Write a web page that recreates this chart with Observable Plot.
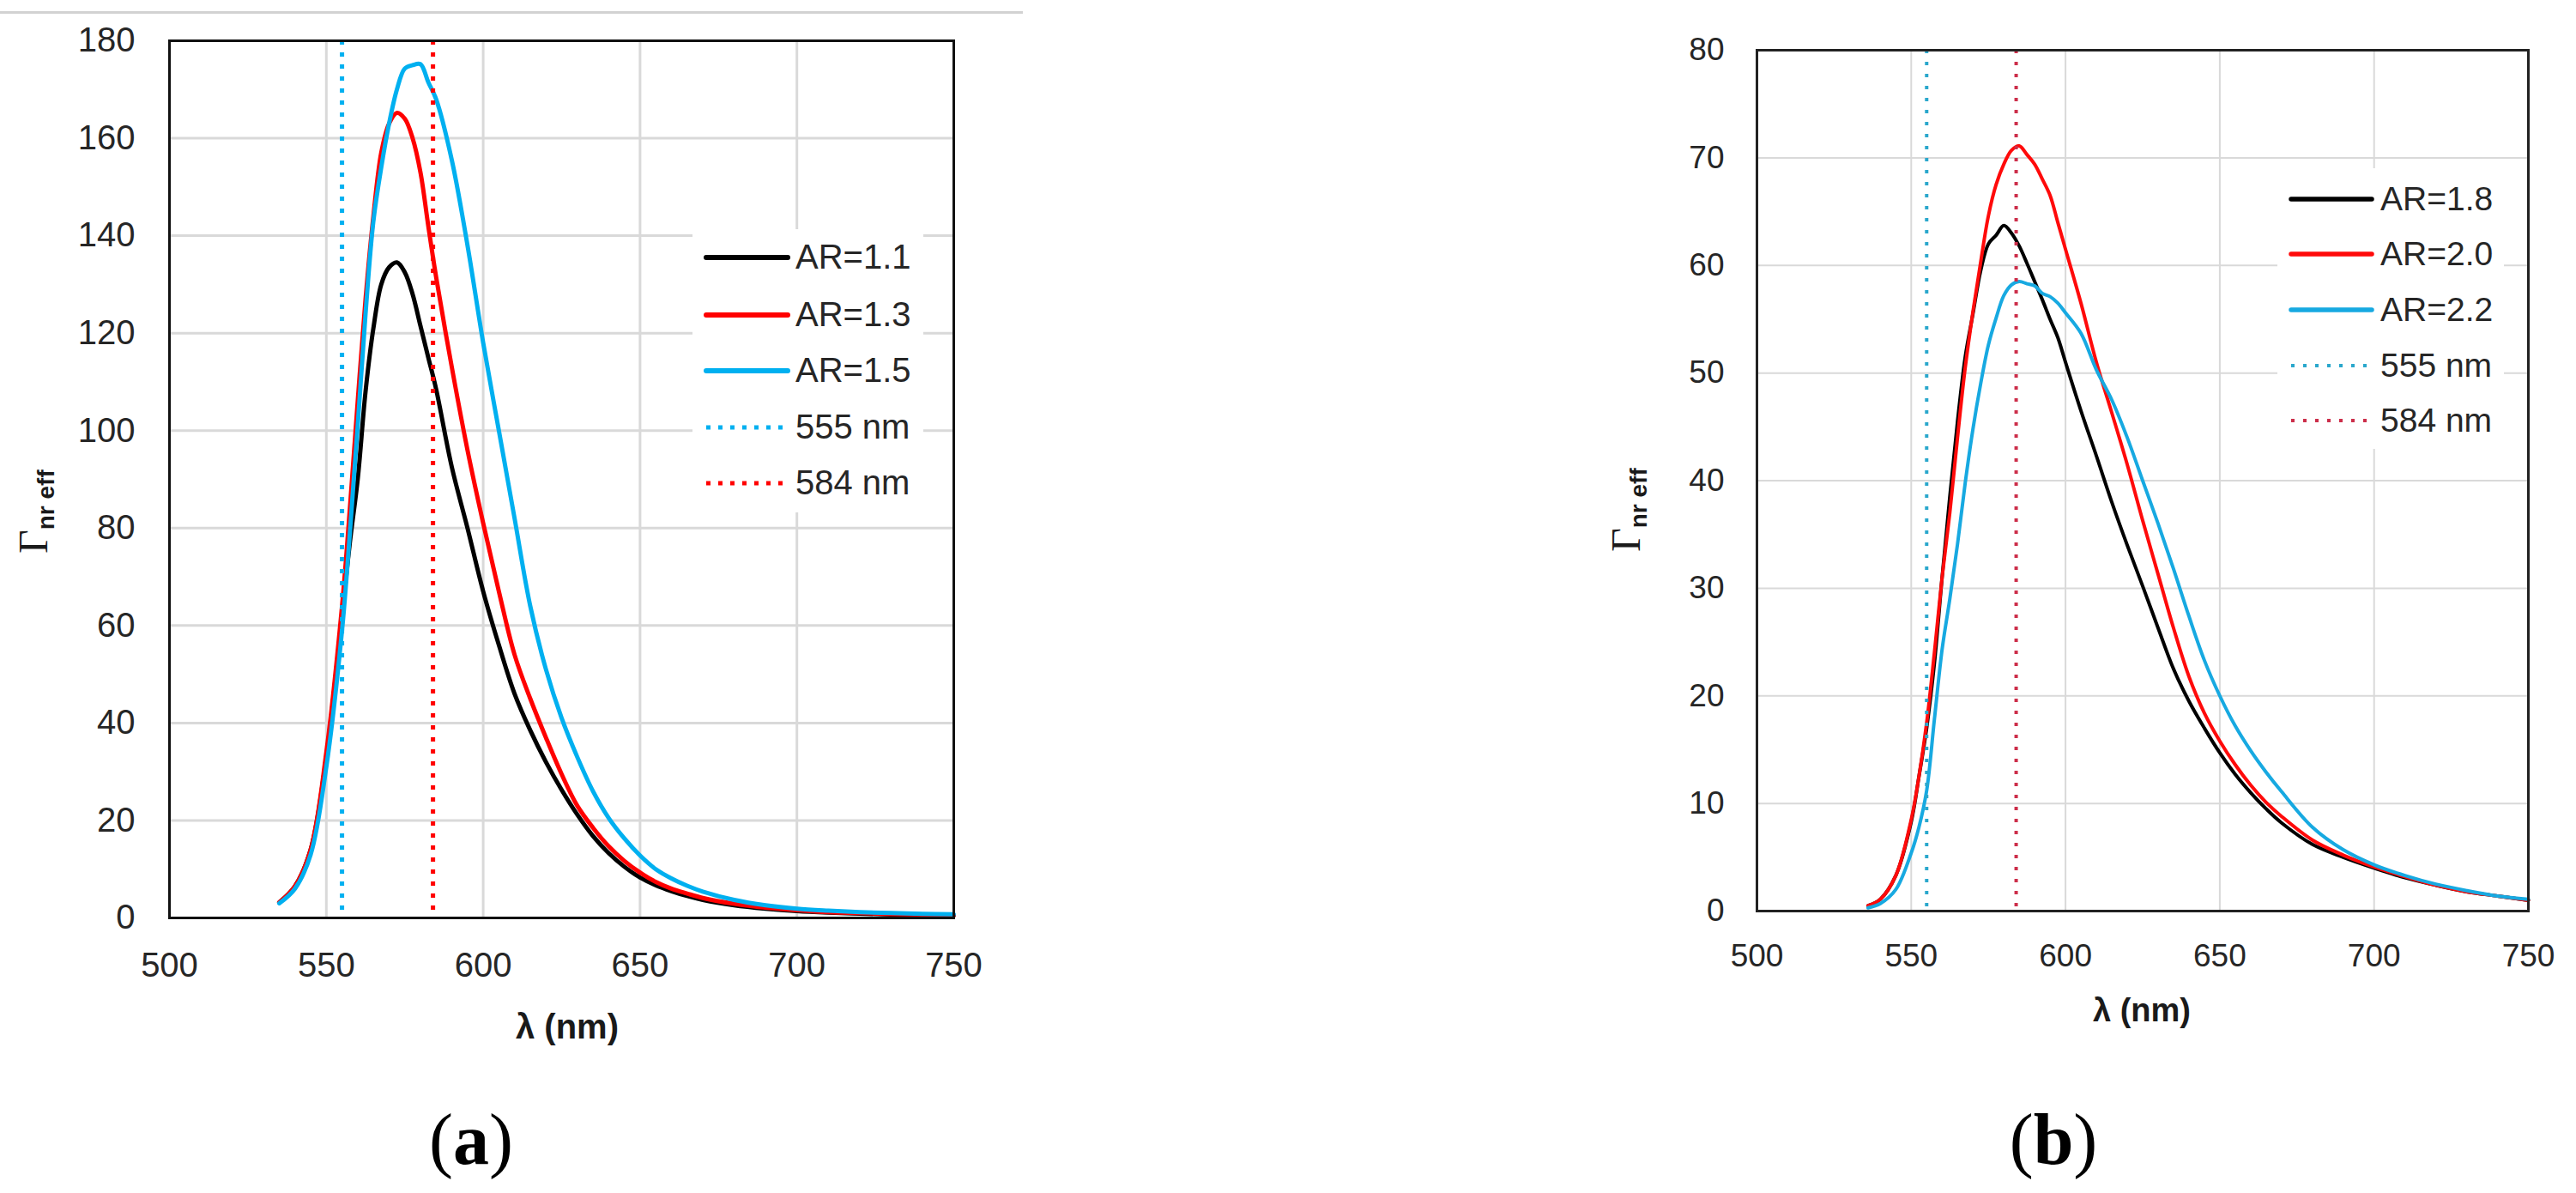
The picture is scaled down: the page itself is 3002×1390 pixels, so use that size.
<!DOCTYPE html>
<html>
<head>
<meta charset="utf-8">
<script src="https://cdn.jsdelivr.net/npm/d3@7"></script>
<script src="https://cdn.jsdelivr.net/npm/@observablehq/plot@0.6"></script>
<style>
  html, body { margin: 0; padding: 0; background: #fff; }
  #root { position: relative; width: 3002px; height: 1390px; overflow: hidden; background: #fff; }
</style>
</head>
<body>
<div id="root"></div>
<script>
// ---------------- DATA ----------------
const xTicks = [500, 550, 600, 650, 700, 750];
const yTicksA = [0, 20, 40, 60, 80, 100, 120, 140, 160, 180];
const yTicksB = [0, 10, 20, 30, 40, 50, 60, 70, 80];
const markerWavelengths = [555, 584];

// Panel (a)
const aWl = [535,540,545,550,555,557.5,560,562.5,565,567.5,570,572.5,575,577.5,580,582.5,585,590,595,600,605,610,615,620,625,630,635,640,645,650,655,660,665,670,680,690,700,710,720,730,740,750];
const aAR11 = [3.2,6.5,14,33,62,77,90,108,121,130,133.5,134.5,132.5,128,121.5,115,108.5,92.5,80,67,56,46,38.5,32,26.3,21.2,16.8,13.3,10.5,8.3,6.7,5.5,4.5,3.7,2.6,1.9,1.4,1.1,0.9,0.7,0.6,0.5];
const aAR13 = [3.2,6.5,14,34,64,84,106,127,144,157,163,165.2,164,160,153,142,131.5,113,96,81,67,54,45,37,29.5,23,18.5,14.7,11.7,9.3,7.4,6.0,5.0,4.1,2.9,2.1,1.6,1.2,1.0,0.8,0.7,0.6];
const aAR15 = [3.0,6.0,13,31,59,79,101,124,143,154,163,170,174.3,175,175.2,171.5,168,155.5,138,118,100,82,64,51,41,33,26,20.5,16.3,12.8,10,8.1,6.6,5.4,3.7,2.6,1.9,1.5,1.2,1.0,0.85,0.75];
const aLegend = ["AR=1.1", "AR=1.3", "AR=1.5", "555 nm", "584 nm"];

// Panel (b)
const bWl = [536,540,545,550,552.5,555,557.5,560,562.5,565,567.5,570,572.5,575,577.5,580,582.5,585,587.5,590,592.5,595,597.5,600,605,610,615,620,625,630,635,640,645,650,655,660,665,670,680,690,700,710,720,730,740,750];
const bAR18 = [0.5,1.1,3.3,8.3,12.5,17,23,31,38.5,45.5,51.5,55.5,59.5,62,62.8,63.7,63,61.8,60.2,58.5,56.8,55,53.3,51,46.5,42.3,38,34,30.2,26.3,22.5,19.5,17,14.7,12.7,11,9.5,8.2,6.2,5.0,4.0,3.1,2.4,1.8,1.4,1.0];
const bAR20 = [0.5,1.1,3.3,8.5,12.5,17.5,24,31,37,44,50.5,55.7,60.3,64.6,67.5,69.4,70.7,71.1,70.3,69.4,68,66.5,64,61.5,56.5,51,46.3,41.5,36.3,31.3,26.3,21.8,18.4,15.8,13.6,11.7,10.1,8.8,6.6,5.2,4.1,3.2,2.4,1.8,1.4,1.0];
const bAR22 = [0.3,0.7,2,5.4,7.8,11.2,17.8,24.3,29,34.1,39.8,44.8,49,52.6,55.1,57.2,58.2,58.5,58.3,58.1,57.4,57.1,56.5,55.6,53.7,50.3,47.5,44,40,36,31.8,27.4,23.3,20,17.2,14.9,12.9,11.1,7.8,5.7,4.3,3.3,2.5,1.9,1.4,1.1];
const bLegend = ["AR=1.8", "AR=2.0", "AR=2.2", "555 nm", "584 nm"];

// ---------------- DRAW ----------------
const SANS = "'Liberation Sans', Arial, Helvetica, sans-serif";
const SERIF = "'Liberation Serif', 'Times New Roman', serif";
const root = document.getElementById("root");
const rows = (wl, vals) => wl.map((w, i) => ({wl: w, v: vals[i]}));

function panel(cfg) {
  const marks = [
    Plot.gridX(xTicks, {stroke: "#d9d9d9", strokeOpacity: 1, strokeWidth: cfg.gridW}),
    Plot.gridY(cfg.yTicks, {stroke: "#d9d9d9", strokeOpacity: 1, strokeWidth: cfg.gridW}),
    ...cfg.series.map(s => Plot.line(rows(cfg.wl, s.values), {
      x: "wl", y: "v", stroke: s.color, strokeWidth: cfg.lineW,
      curve: "catmull-rom", strokeLinejoin: "round", strokeLinecap: "round"
    })),
    ...markerWavelengths.map((m, i) => Plot.ruleX([m], {
      stroke: cfg.markerColors[i], strokeWidth: cfg.dotW, strokeDasharray: cfg.dash
    })),
    Plot.frame({stroke: cfg.frameColor, strokeWidth: cfg.frameW})
  ];
  const svg = Plot.plot({
    width: cfg.width, height: cfg.height,
    marginLeft: cfg.ml, marginRight: cfg.mr, marginTop: cfg.mt, marginBottom: cfg.mb,
    x: {domain: [500, 750], ticks: xTicks, tickSize: 0, tickPadding: cfg.xPad, label: null},
    y: {domain: cfg.yDomain, ticks: cfg.yTicks, tickSize: 0, tickPadding: cfg.yPad, label: null},
    style: {fontFamily: SANS, fontSize: cfg.fontSize + "px", color: "#262626", background: "transparent"},
    marks
  });
  svg.style.position = "absolute";
  svg.style.left = cfg.left + "px";
  svg.style.top = "0px";
  root.appendChild(svg);
}

panel({
  left: 0, width: 1200, height: 1240, ml: 197, mr: 89, mt: 47, mb: 171,
  xPad: 40, yPad: 40, fontSize: 40, yDomain: [0, 180], yTicks: yTicksA,
  wl: aWl, gridW: 3, lineW: 5, dotW: 5, dash: "5,9", frameW: 3, frameColor: "#111",
  series: [
    {values: aAR11, color: "#000000"},
    {values: aAR13, color: "#ff0000"},
    {values: aAR15, color: "#00b0f0"}
  ],
  markerColors: ["#00b0f0", "#ff0000"]
});

panel({
  left: 1850, width: 1152, height: 1240, ml: 197, mr: 56, mt: 58, mb: 179,
  xPad: 38, yPad: 38, fontSize: 37, yDomain: [0, 80], yTicks: yTicksB,
  wl: bWl, gridW: 2, lineW: 4, dotW: 4, dash: "4,10", frameW: 3, frameColor: "#222",
  series: [
    {values: bAR18, color: "#000000"},
    {values: bAR20, color: "#ff0a0a"},
    {values: bAR22, color: "#17a9e1"}
  ],
  markerColors: ["#2aa7cc", "#cc2e4a"]
});

// ---------------- OVERLAY: titles, legends, labels ----------------
const ov = d3.select(root).append("svg")
  .attr("width", 3002).attr("height", 1390)
  .style("position", "absolute").style("left", "0px").style("top", "0px")
  .style("pointer-events", "none");

// page rule at top
ov.append("rect").attr("x", 0).attr("y", 13).attr("width", 1192).attr("height", 3).attr("fill", "#d2d2d2");

function legend(box, items, colors, dotted, cfg) {
  ov.append("rect").attr("x", box[0]).attr("y", box[1]).attr("width", box[2]).attr("height", box[3]).attr("fill", "#fff");
  items.forEach((label, i) => {
    const y = cfg.ys[i];
    const ln = ov.append("line").attr("x1", cfg.x1).attr("x2", cfg.x2).attr("y1", y).attr("y2", y)
      .attr("stroke", colors[i]);
    if (dotted[i]) ln.attr("stroke-width", cfg.dotW).attr("stroke-dasharray", cfg.dash);
    else ln.attr("stroke-width", cfg.lineW).attr("stroke-linecap", "round");
    ov.append("text").attr("x", cfg.tx).attr("y", y + 13)
      .attr("font-family", SANS).attr("font-size", cfg.fs).attr("fill", "#262626").text(label);
  });
}

legend([807, 267, 269, 330], aLegend,
  ["#000000", "#ff0000", "#00b0f0", "#00b0f0", "#ff0000"],
  [false, false, false, true, true],
  {ys: [300, 367, 432, 498, 563], x1: 823, x2: 918, tx: 927, fs: 40, lineW: 6, dotW: 5, dash: "5,9"});

legend([2654, 196, 264, 327], bLegend,
  ["#000000", "#ff0a0a", "#17a9e1", "#2aa7cc", "#cc2e4a"],
  [false, false, false, true, true],
  {ys: [232, 296, 361, 426, 490], x1: 2670, x2: 2764, tx: 2774, fs: 39, lineW: 5.5, dotW: 4, dash: "4,10"});

// y titles  Γ_nr eff
function yTitle(x, y, fsG, fsS, dy) {
  const t = ov.append("text").attr("transform", `translate(${x},${y}) rotate(-90)`).attr("fill", "#1a1a1a");
  t.append("tspan").attr("font-family", SERIF).attr("font-size", fsG).text("Γ");
  t.append("tspan").attr("font-family", SANS).attr("font-weight", "bold").attr("font-size", fsS).attr("dy", dy).text("nr eff");
}
yTitle(55, 645, 48, 28, 8);
yTitle(1911, 643, 48, 28, 8);

// x titles
ov.append("text").attr("x", 661).attr("y", 1210).attr("text-anchor", "middle")
  .attr("font-family", SANS).attr("font-weight", "bold").attr("font-size", 40).attr("fill", "#1a1a1a").text("λ (nm)");
ov.append("text").attr("x", 2496).attr("y", 1190).attr("text-anchor", "middle")
  .attr("font-family", SANS).attr("font-weight", "bold").attr("font-size", 38).attr("fill", "#1a1a1a").text("λ (nm)");

// panel labels
function panelLabel(x, letter) {
  const t = ov.append("text").attr("x", x).attr("y", 1356).attr("text-anchor", "middle")
    .attr("font-family", SERIF).attr("font-size", 84).attr("fill", "#000");
  t.append("tspan").text("(");
  t.append("tspan").attr("font-weight", "bold").text(letter);
  t.append("tspan").text(")");
}
panelLabel(549, "a");
panelLabel(2393, "b");
</script>
</body>
</html>
